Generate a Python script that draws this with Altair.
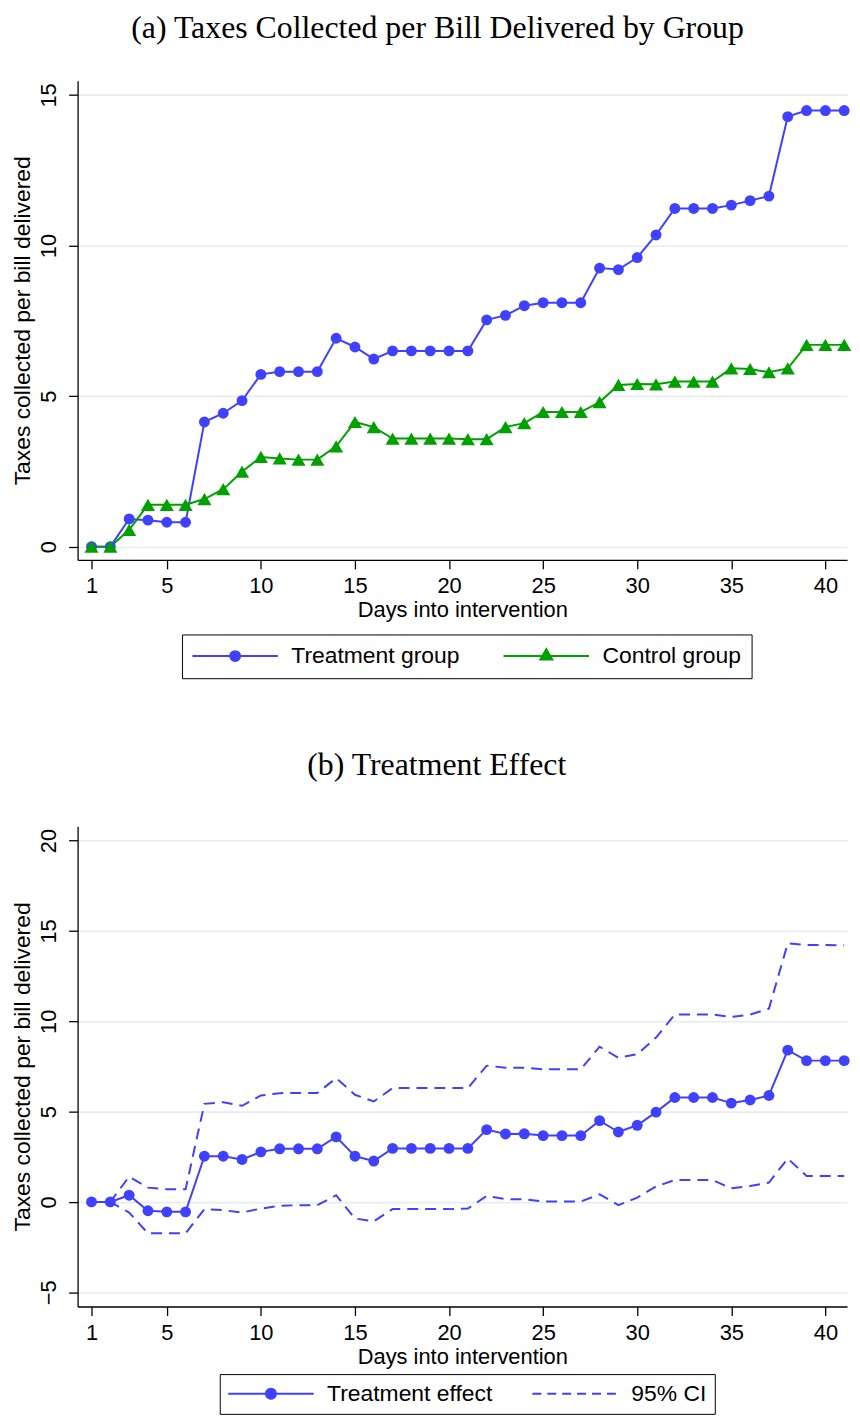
import altair as alt
import pandas as pd

# ---------------- data ----------------
days = list(range(1, 42))

treatment = [0.00, 0.00, 0.92, 0.88, 0.81, 0.81, 4.14, 4.43, 4.85, 5.72,
             5.81, 5.81, 5.81, 6.92, 6.63, 6.23, 6.50, 6.50, 6.50, 6.50,
             6.50, 7.53, 7.68, 8.00, 8.10, 8.10, 8.10, 9.25, 9.20, 9.60,
             10.35, 11.23, 11.23, 11.23, 11.34, 11.49, 11.64, 14.28, 14.48, 14.48, 14.48]
control = [0.00, 0.00, 0.56, 1.39, 1.39, 1.39, 1.58, 1.91, 2.49, 2.98,
           2.93, 2.89, 2.89, 3.33, 4.14, 3.97, 3.59, 3.59, 3.59, 3.59,
           3.57, 3.57, 3.97, 4.10, 4.47, 4.47, 4.47, 4.80, 5.37, 5.40,
           5.39, 5.48, 5.48, 5.48, 5.92, 5.90, 5.79, 5.92, 6.70, 6.70, 6.70]

effect = [0.00, 0.00, 0.37, -0.49, -0.55, -0.55, 2.53, 2.53, 2.35, 2.77,
          2.94, 2.94, 2.94, 3.60, 2.53, 2.26, 2.96, 2.96, 2.96, 2.96,
          2.96, 4.00, 3.76, 3.77, 3.67, 3.67, 3.67, 4.50, 3.87, 4.24,
          4.97, 5.78, 5.78, 5.78, 5.47, 5.64, 5.89, 8.40, 7.82, 7.82, 7.82]
ci_upper = [0.00, 0.00, 1.40, 0.79, 0.70, 0.70, 5.43, 5.52, 5.32, 5.89,
            6.02, 6.03, 6.03, 6.85, 5.93, 5.56, 6.30, 6.30, 6.30, 6.30,
            6.30, 7.54, 7.43, 7.43, 7.34, 7.34, 7.34, 8.59, 7.98, 8.18,
            9.10, 10.37, 10.37, 10.37, 10.24, 10.37, 10.70, 14.31, 14.22, 14.22, 14.20]
ci_lower = [0.00, 0.00, -0.59, -1.74, -1.74, -1.74, -0.40, -0.46, -0.59, -0.37,
            -0.22, -0.18, -0.18, 0.37, -0.92, -1.08, -0.40, -0.40, -0.40, -0.40,
            -0.37, 0.33, 0.15, 0.15, 0.02, 0.02, 0.02, 0.42, -0.18, 0.24,
            0.85, 1.21, 1.21, 1.21, 0.75, 0.88, 1.07, 2.40, 1.43, 1.43, 1.43]

group_names = ["Treatment group", "Control group"]
effect_names = ["Treatment effect", "95% CI"]
x_ticks = [1, 5, 10, 15, 20, 25, 30, 35, 40]
y_ticks_a = [0, 5, 10, 15]
y_ticks_b = [-5, 0, 5, 10, 15, 20]
title_a = "(a) Taxes Collected per Bill Delivered by Group"
title_b = "(b) Treatment Effect"
x_title = "Days into intervention"
y_title = "Taxes collected per bill delivered"

# ---------------- styling ----------------
BLUE = "#4040ff"
GREEN = "#00a000"
SANS = "Liberation Sans"
SERIF = "Liberation Serif"
PLOT_W = 774
H_A = 482
H_B = 483
X_DOMAIN = [0.26, 41.15]
Y_DOMAIN_A = [-0.44, 15.47]
Y_DOMAIN_B = [-5.79, 20.79]
DASH = [11, 7]
LEG_DASH = [9, 6]

# legend symbol paths (unit = 10 px at symbolSize 400)
LINE = "M-1.1,0L7.5,0"
CIRCLE = "M2.7,0A0.5,0.5 0 1,0 3.7,0A0.5,0.5 0 1,0 2.7,0Z"
TRI = "M3.2,-0.69L3.8,0.35L2.6,0.35Z"

df_a = pd.DataFrame({
    "day": days * 2,
    "value": treatment + control,
    "series": [group_names[0]] * 41 + [group_names[1]] * 41,
})
df_b = pd.DataFrame({
    "day": days * 3,
    "value": effect + ci_upper + ci_lower,
    "series": [effect_names[0]] * 41 + [effect_names[1]] * 82,
    "line": ["effect"] * 41 + ["upper"] * 41 + ["lower"] * 41,
})


def x_enc():
    return alt.X("day:Q",
                 scale=alt.Scale(domain=X_DOMAIN, nice=False, zero=False),
                 axis=alt.Axis(values=x_ticks, title=x_title, grid=False,
                               labelPadding=7, titleY=50, titleBaseline="middle"))


def y_enc(domain, ticks):
    return alt.Y("value:Q",
                 scale=alt.Scale(domain=domain, nice=False, zero=False),
                 axis=alt.Axis(values=ticks, title=y_title, grid=True,
                               labelAngle=270, labelAlign="center",
                               labelBaseline="alphabetic", labelPadding=13,
                               titleAngle=270, titleX=-55, titleBaseline="middle",
                               titleAlign="center", titleFontSize=23))


def legend(x, y, pad, colpad):
    return alt.Legend(title=None, orient="none", legendX=x, legendY=y,
                      direction="horizontal", strokeColor="black",
                      fillColor="white", padding=pad, labelFont=SANS,
                      labelFontSize=23, labelColor="black", labelOffset=77,
                      labelLimit=400, columnPadding=colpad, symbolSize=400,
                      symbolStrokeWidth=2, symbolOpacity=1)


def title(text, offset):
    return alt.TitleParams(text, font=SERIF, fontSize=32, fontWeight="normal",
                           color="black", anchor="middle", frame="bounds",
                           offset=offset, baseline="alphabetic", dx=6)


def legend_layer(base, names, shapes, fills, strokes, dashes, leg):
    # helper layer with no visible marks; it only carries the legend
    enc = dict(
        x="day:Q", y="value:Q",
        shape=alt.Shape("series:N", scale=alt.Scale(domain=names, range=shapes), legend=leg),
        fill=alt.Fill("series:N", scale=alt.Scale(domain=names, range=fills), legend=leg),
        stroke=alt.Stroke("series:N", scale=alt.Scale(domain=names, range=strokes), legend=leg),
    )
    if dashes is not None:
        enc["strokeDash"] = alt.StrokeDash("series:N", scale=alt.Scale(domain=names, range=dashes),
                                           legend=leg)
    return base.transform_filter("false").mark_point(
        filled=True, strokeWidth=2, opacity=1).encode(**enc)


# ---------------- panel (a) ----------------
base_a = alt.Chart(df_a)
line_treat = base_a.transform_filter(alt.datum.series == group_names[0]).mark_line(
    strokeWidth=2, color=BLUE).encode(x=x_enc(), y=y_enc(Y_DOMAIN_A, y_ticks_a))
line_ctrl = base_a.transform_filter(alt.datum.series == group_names[1]).mark_line(
    strokeWidth=2, color=GREEN).encode(x="day:Q", y="value:Q")
pts_treat = base_a.transform_filter(alt.datum.series == group_names[0]).mark_point(
    shape="circle", filled=True, size=120, color=BLUE, opacity=1).encode(
    x="day:Q", y="value:Q")
pts_ctrl = base_a.transform_filter(alt.datum.series == group_names[1]).mark_point(
    shape="triangle-up", filled=True, size=200, color=GREEN, opacity=1).encode(
    x="day:Q", y="value:Q")
legend_layer_a = legend_layer(base_a, group_names, [LINE + CIRCLE, LINE + TRI],
                              [BLUE, GREEN], [BLUE, GREEN], None,
                              legend(105, 557, 10, 39))
panel_a = alt.layer(line_treat, line_ctrl, pts_treat, pts_ctrl, legend_layer_a).properties(
    width=PLOT_W, height=H_A, title=title(title_a, 11))

# ---------------- panel (b) ----------------
base_b = alt.Chart(df_b)
line_eff = base_b.transform_filter(alt.datum.line == "effect").mark_line(
    strokeWidth=2, color=BLUE).encode(x=x_enc(), y=y_enc(Y_DOMAIN_B, y_ticks_b))
line_ci = base_b.transform_filter(alt.datum.line != "effect").mark_line(
    strokeWidth=2, color=BLUE, strokeDash=DASH).encode(
    x="day:Q", y="value:Q", detail="line:N")
pts_eff = base_b.transform_filter(alt.datum.line == "effect").mark_point(
    shape="circle", filled=True, size=120, color=BLUE, opacity=1).encode(
    x="day:Q", y="value:Q")
legend_layer_b = legend_layer(base_b, effect_names, [LINE + CIRCLE, LINE],
                              [BLUE, BLUE], [BLUE, BLUE], [[1, 0], LEG_DASH],
                              legend(143, 551, 8, 35))
panel_b = alt.layer(line_eff, line_ci, pts_eff, legend_layer_b).properties(
    width=PLOT_W, height=H_B, title=title(title_b, 20))

chart = alt.vconcat(panel_a, panel_b, spacing=70).resolve_scale(
    x="independent", y="independent", shape="independent",
    fill="independent", stroke="independent", strokeDash="independent",
).properties(
    padding={"left": 3, "top": 0, "right": 0, "bottom": 0},
    background="white",
).configure_view(stroke=None).configure_axis(
    domainColor="black", domainWidth=1.3, tickColor="black", tickWidth=1.3,
    tickSize=9, labelFont=SANS, labelFontSize=22, labelColor="black",
    titleFont=SANS, titleFontSize=22, titleFontWeight="normal", titleColor="black",
    gridColor="#e6edf1", gridWidth=1.6,
)

chart.save("out.html", embed_options={"renderer": "svg", "actions": False})
